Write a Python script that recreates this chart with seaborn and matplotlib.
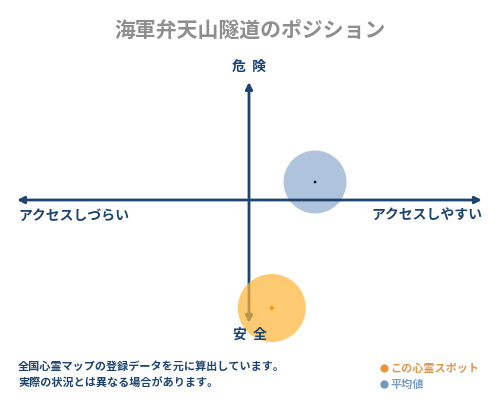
import pandas as pd
import matplotlib.pyplot as plt
import seaborn as sns
from matplotlib.lines import Line2D

# données (échelle -100..100 sur chaque axe)
categories = ["この心霊スポット", "平均値"]
acces = [9.7, 28.1]       # accessibilité (gauche = difficile, droite = facile)
danger = [-86.4, 14.4]    # danger (haut = dangereux, bas = sûr)
rayon = [34, 31.5]        # rayon des bulles en pixels

titre = "海軍弁天山隧道のポジション"
label_haut, label_bas = "危  険", "安  全"
label_gauche, label_droite = "アクセスしづらい", "アクセスしやすい"
note = ["全国心霊マップの登録データを元に算出しています。",
        "実際の状況とは異なる場合があります。"]

bulle_couleurs = ["#fdb63c", "#a4bcd8"]
point_couleurs = ["#f0a010", "#1a1a1a"]
legende_couleurs = ["#ee9636", "#6f9ac4"]
texte_couleurs = ["#e0954a", "#7a9cc0"]
navy = "#1d456f"

sns.set_theme(style="white")
plt.rcParams['font.family'] = ['Noto Sans CJK JP', 'DejaVu Sans']

df = pd.DataFrame({"cat": categories, "x": acces, "y": danger, "r": rayon})
df["s"] = (2 * df["r"] * 0.72) ** 2

fig = plt.figure(figsize=(5, 4), dpi=100)
ax = fig.add_axes([0, 0, 1, 1])
ax.set_xlim(-249 / 2.35, 251 / 2.35)
ax.set_ylim(-160, 160)
ax.axis("off")

# axes avec flèches
fleche = dict(arrowstyle="-|>", color=navy, lw=2, mutation_scale=10, shrinkA=0, shrinkB=0)
ax.annotate("", xy=(99.1, 0), xytext=(0, 0), arrowprops=fleche, zorder=2)
ax.annotate("", xy=(-98.7, 0), xytext=(0, 0), arrowprops=fleche, zorder=2)
ax.annotate("", xy=(0, 94.4), xytext=(0, 0), arrowprops=fleche, zorder=2)
ax.annotate("", xy=(0, -98.4), xytext=(0, 0), arrowprops=fleche, zorder=2)

# bulles : moyenne sous l'axe, spot au-dessus
moy = df.iloc[[1]]
spot = df.iloc[[0]]
sns.scatterplot(data=moy, x="x", y="y", s=moy["s"].iloc[0], color=bulle_couleurs[1],
                alpha=0.88, edgecolor="none", ax=ax, zorder=1, legend=False)
sns.scatterplot(data=moy, x="x", y="y", s=4, color=point_couleurs[1],
                edgecolor="none", ax=ax, zorder=3, legend=False)

fig.text(0.5, 1 - 30 / 400, titre, ha="center", va="center", fontsize=15,
         color="#8e8e8e", fontweight="bold")
fig.text(249 / 500, 1 - 67 / 400, label_haut, ha="center", va="center", fontsize=10,
         color=navy, fontweight="bold")
fig.text(250 / 500, 1 - 335 / 400, label_bas, ha="center", va="center", fontsize=10,
         color=navy, fontweight="bold")
fig.text(18 / 500, 1 - 216 / 400, label_gauche, ha="left", va="center", fontsize=10,
         color=navy, fontweight="bold")
fig.text(482 / 500, 1 - 216 / 400, label_droite, ha="right", va="center", fontsize=10,
         color=navy, fontweight="bold")

sns.scatterplot(data=spot, x="x", y="y", s=spot["s"].iloc[0], color=bulle_couleurs[0],
                alpha=0.72, edgecolor="none", ax=ax, zorder=5, legend=False)
sns.scatterplot(data=spot, x="x", y="y", s=8, color=point_couleurs[0], marker="D",
                edgecolor="none", ax=ax, zorder=6, legend=False)

# note en bas
for i, ligne in enumerate(note):
    fig.text(18 / 500, 1 - (366 + 17 * i) / 400, ligne, ha="left", va="center",
             fontsize=8, color=navy, fontweight="bold")

# légende
poignees = [Line2D([], [], marker="o", ls="", markersize=6, color=c, markeredgecolor="none")
            for c in legende_couleurs]
leg = fig.legend(poignees, categories, loc="upper left", bbox_to_anchor=(373 / 500, 1 - 356 / 400),
                 frameon=False, fontsize=8, handletextpad=0.1, handlelength=1,
                 labelspacing=0.3, borderpad=0, labelcolor=texte_couleurs)
for t in leg.get_texts():
    t.set_fontweight("bold")

fig.savefig("out.png", dpi=100)
